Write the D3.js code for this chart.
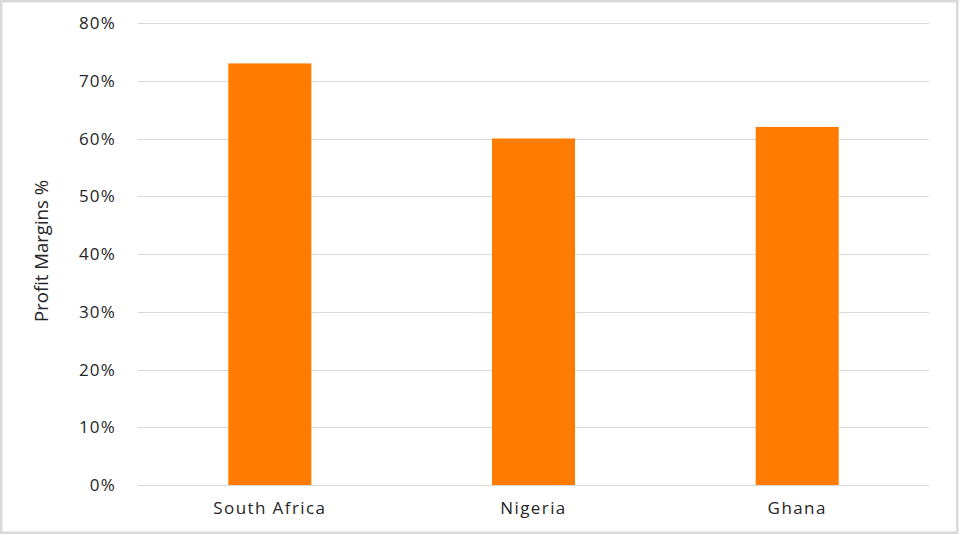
<!DOCTYPE html>
<html lang="en">

<head>
  <title>Profit Margins by Country</title>
  <script src="https://d3js.org/d3.v7.min.js"></script>
  <style>
    body {
      margin: 0;
      padding: 0;
      overflow: hidden;
      background: #fff;
    }

    .chart text {
      font-family: "Open Sans", "DejaVu Sans", sans-serif;
      fill: #262626;
    }

    .grid line {
      stroke: #d9d9d9;
      stroke-width: 1px;
    }
  </style>
</head>

<body>
  <svg class="chart"></svg>

  <script>
    // Chart data
    const countries = ["South Africa", "Nigeria", "Ghana"];
    const margins = [0.73, 0.60, 0.62];
    const yTicks = [0, 0.1, 0.2, 0.3, 0.4, 0.5, 0.6, 0.7, 0.8];
    const yTitle = "Profit Margins %";

    const width = 960;
    const height = 535;
    const plot = { left: 138, right: 929, top: 23, bottom: 485 };

    const svg = d3.select(".chart")
      .attr("width", width)
      .attr("height", height);

    // Outer chart border
    svg.append("rect")
      .attr("x", 1.25)
      .attr("y", 1.25)
      .attr("width", width - 4)
      .attr("height", height - 3.5)
      .attr("fill", "#fff")
      .attr("stroke", "#d9d9d9")
      .attr("stroke-width", 2.5);

    const x = d3.scaleBand()
      .domain(countries)
      .range([plot.left, plot.right])
      .paddingInner(0.685)
      .paddingOuter(0.3425);

    const y = d3.scaleLinear()
      .domain([0, 0.8])
      .range([plot.bottom, plot.top]);

    // Horizontal gridlines
    svg.append("g")
      .attr("class", "grid")
      .selectAll("line")
      .data(yTicks)
      .enter().append("line")
      .attr("x1", plot.left)
      .attr("x2", plot.right)
      .attr("y1", d => Math.round(y(d)) + 0.5)
      .attr("y2", d => Math.round(y(d)) + 0.5);

    // Bars
    svg.append("g")
      .selectAll("rect")
      .data(countries)
      .enter().append("rect")
      .attr("x", d => x(d))
      .attr("y", (d, i) => y(margins[i]))
      .attr("width", x.bandwidth())
      .attr("height", (d, i) => y(0) - y(margins[i]))
      .attr("fill", "#ff7c00");

    // Y axis (labels only)
    const yAxis = svg.append("g")
      .attr("transform", `translate(${plot.left},0)`)
      .call(d3.axisLeft(y)
        .tickValues(yTicks)
        .tickFormat(d3.format(".0%"))
        .tickSize(0)
        .tickPadding(22));
    yAxis.select(".domain").remove();
    yAxis.selectAll("text")
      .attr("font-size", "17px")
      .attr("letter-spacing", "1.2px")
      .attr("dy", "0.33em");

    // X axis (labels only)
    const xAxis = svg.append("g")
      .attr("transform", `translate(0,${plot.bottom})`)
      .call(d3.axisBottom(x).tickSize(0).tickPadding(17));
    xAxis.select(".domain").remove();
    xAxis.selectAll("text")
      .attr("font-size", "17px")
      .attr("letter-spacing", "1.4px");

    // Y axis title
    svg.append("text")
      .attr("transform", `translate(48,${(180 + 322) / 2}) rotate(-90)`)
      .attr("text-anchor", "middle")
      .attr("font-size", "18px")
      .attr("textLength", 142)
      .attr("lengthAdjust", "spacingAndGlyphs")
      .text(yTitle);
  </script>
</body>

</html>
